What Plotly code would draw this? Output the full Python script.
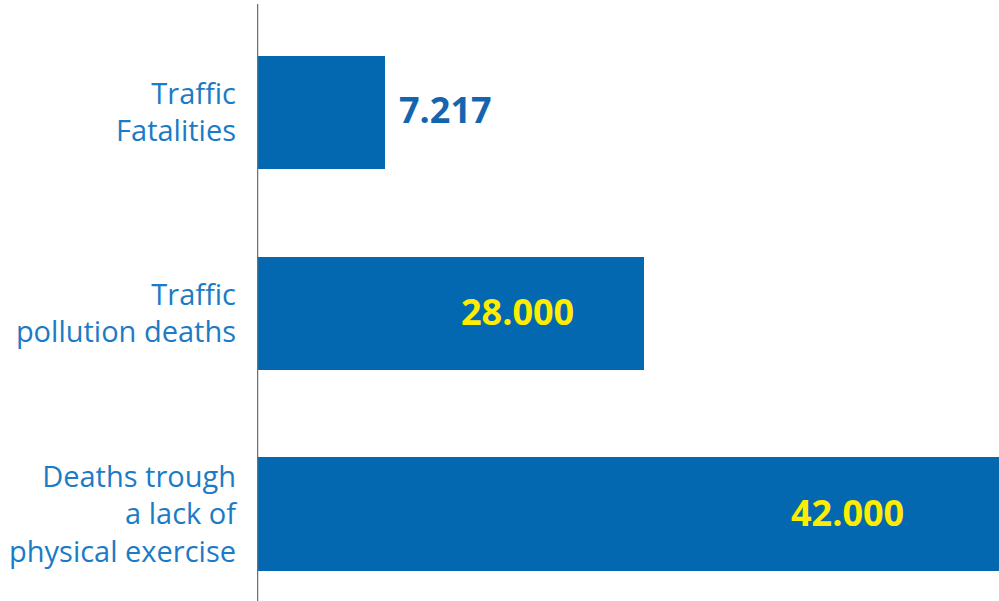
import plotly.graph_objects as go

# Data
categories = ["Traffic<br>Fatalities", "Traffic<br>pollution deaths",
              "Deaths trough<br>a lack of<br>physical exercise"]
value_labels = ["7.217", "28.000", "42.000"]
# bar lengths as drawn in the reference (x axis units, 0..42000)
bar_lengths = [7217, 21900, 42000]

bar_color = "#0468B1"
label_color = "#1C7BC6"

fig = go.Figure()
fig.add_trace(go.Bar(
    y=categories, x=bar_lengths, orientation="h",
    marker=dict(color=bar_color, line=dict(width=0)),
    width=0.566, hoverinfo="skip",
))

# value annotations
ann = []
ann.append(dict(x=bar_lengths[0], y=categories[0], xref="x", yref="y",
                text="<b>" + value_labels[0] + "</b>", showarrow=False,
                xanchor="left", xshift=12, yshift=3,
                font=dict(family="Open Sans", size=36, color="#1565AE")))
ann.append(dict(x=bar_lengths[1], y=categories[1], xref="x", yref="y",
                text="<b>" + value_labels[1] + "</b>", showarrow=False,
                xanchor="right", xshift=-68, yshift=2,
                font=dict(family="Open Sans", size=36, color="#FFED00")))
ann.append(dict(x=bar_lengths[2], y=categories[2], xref="x", yref="y",
                text="<b>" + value_labels[2] + "</b>", showarrow=False,
                xanchor="right", xshift=-93, yshift=2,
                font=dict(family="Open Sans", size=36, color="#FFED00")))

fig.update_layout(
    width=999, height=601,
    margin=dict(l=257, r=0, t=0, b=0),
    paper_bgcolor="white", plot_bgcolor="white",
    showlegend=False,
    bargap=0,
    annotations=ann,
    xaxis=dict(range=[0, 42000], showgrid=False, zeroline=False,
               showticklabels=False, showline=False, fixedrange=True),
    yaxis=dict(type="category", categoryorder="array", categoryarray=categories,
               range=[2.432, -0.56], showgrid=False, zeroline=False,
               showline=False, ticks="", ticklabelstandoff=20,
               tickfont=dict(family="Open Sans", size=29, color=label_color)),
    shapes=[dict(type="line", xref="x", yref="paper", x0=0, x1=0,
                 y0=0, y1=(601 - 4) / 601,
                 line=dict(color="#707070", width=2.5))],
)

fig.write_html("out.html")
